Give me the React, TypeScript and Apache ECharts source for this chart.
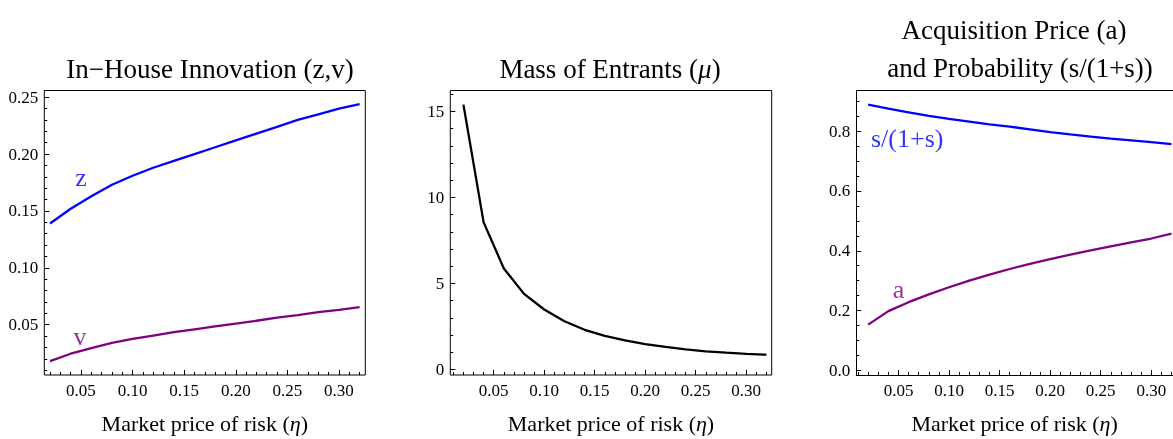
import React, { useEffect, useRef } from "react";
import * as echarts from "echarts";

// ---- data ----
const eta = [0.02, 0.04, 0.06, 0.08, 0.1, 0.12, 0.14, 0.16, 0.18, 0.2, 0.22, 0.24, 0.26, 0.28, 0.3, 0.32];
const zVals = [0.139, 0.152, 0.163, 0.173, 0.181, 0.188, 0.194, 0.2, 0.206, 0.212, 0.218, 0.224, 0.23, 0.235, 0.24, 0.244];
const vVals = [0.018, 0.0245, 0.0295, 0.034, 0.0375, 0.0405, 0.0435, 0.046, 0.0485, 0.051, 0.0535, 0.0562, 0.0585, 0.061, 0.063, 0.0655];
const muVals = [15.4, 8.55, 5.87, 4.39, 3.48, 2.8, 2.3, 1.95, 1.68, 1.47, 1.3, 1.16, 1.05, 0.97, 0.9, 0.85];
const sVals = [0.889, 0.875, 0.863, 0.851, 0.841, 0.832, 0.823, 0.815, 0.806, 0.797, 0.789, 0.782, 0.775, 0.769, 0.763, 0.757];
const aVals = [0.153, 0.198, 0.228, 0.254, 0.278, 0.3, 0.32, 0.339, 0.356, 0.372, 0.387, 0.401, 0.415, 0.428, 0.441, 0.457];

const xTicks = [0.05, 0.1, 0.15, 0.2, 0.25, 0.3];
const yTicks1 = [0.05, 0.1, 0.15, 0.2, 0.25];
const yTicks2 = [0, 5, 10, 15];
const yTicks3 = [0, 0.2, 0.4, 0.6, 0.8];

const titles = ["In\u2212House Innovation (z,v)", "Mass of Entrants ({i|\u03bc})", "Acquisition Price (a)", "and Probability (s/(1+s))"];
const xName = "Market price of risk ({i|\u03b7})";

// curve labels: [x, y]
const zLabelPos = [0.05, 0.179];
const vLabelPos = [0.049, 0.0396];
const sLabelPos = [0.0228, 0.776];
const aLabelPos = [0.05, 0.271];

const FONT = "'Liberation Serif', 'Times New Roman', serif";
const BLUE = "#0000ff";
const PURPLE = "#800080";

function minorList(lo: number, hi: number, step: number, majorStep: number) {
  const out: number[] = [];
  const n0 = Math.ceil(lo / step - 1e-9);
  const n1 = Math.floor(hi / step + 1e-9);
  const ratio = Math.round(majorStep / step);
  for (let k = n0; k <= n1; k++) {
    if (k % ratio === 0) continue;
    out.push(Math.round(k * step * 1e6) / 1e6);
  }
  return out;
}

// panel 3 runs off the right edge of the picture: its frame has no right side
const grids: any[] = [
  { left: 44.3, top: 90.5, width: 321, height: 288.5, xmin: 0.01444, xmax: 0.3255, ymin: 0.0058, ymax: 0.2559, yTicks: yTicks1, yStep: 0.01, yMajor: 0.05, yFmt: (v: number) => v.toFixed(2), box: true },
  { left: 450.3, top: 90.5, width: 321.4, height: 288.5, xmin: 0.007, xmax: 0.3252, ymin: -0.33, ymax: 16.22, yTicks: yTicks2, yStep: 1, yMajor: 5, yFmt: (v: number) => String(Math.round(v)), box: true },
  { left: 856.3, top: 90.5, width: 316.7, height: 288.5, xmin: 0.00826, xmax: 0.3215, ymin: -0.0155, ymax: 0.936, yTicks: yTicks3, yStep: 0.05, yMajor: 0.2, yFmt: (v: number) => v.toFixed(1), box: false },
];

export default function App() {
  const ref = useRef<HTMLDivElement>(null);
  useEffect(() => {
    if (!ref.current) return;
    const chart = echarts.init(ref.current, undefined, { renderer: "svg" });
    const labelStyle = { fontFamily: FONT, fontSize: 17, color: "#000" };
    const xAxis: any[] = [];
    const yAxis: any[] = [];
    const frameLine = { color: "#000", width: 1 };
    grids.forEach((g, i) => {
      xAxis.push({
        type: "value", gridIndex: i, min: g.xmin, max: g.xmax, position: "bottom",
        axisLine: { show: !g.box, onZero: false, lineStyle: frameLine }, splitLine: { show: false },
        axisTick: { show: true, inside: true, length: 5, customValues: xTicks, lineStyle: { color: "#000", width: 1 } },
        axisLabel: { ...labelStyle, margin: 7, customValues: xTicks, formatter: (v: number) => v.toFixed(2) },
        name: xName, nameLocation: "middle", nameGap: 37,
        nameTextStyle: { fontFamily: FONT, fontSize: 22, color: "#000", rich: { i: { fontFamily: FONT, fontSize: 22, fontStyle: "italic", color: "#000" } } },
      });
      xAxis.push({
        type: "value", gridIndex: i, min: g.xmin, max: g.xmax, position: "bottom",
        axisLine: { show: false, onZero: false }, splitLine: { show: false }, axisLabel: { show: false },
        axisTick: { show: true, inside: true, length: 3, customValues: minorList(g.xmin, g.xmax, 0.01, 0.05), lineStyle: { color: "#000", width: 1 } },
      });
      yAxis.push({
        type: "value", gridIndex: i, min: g.ymin, max: g.ymax, position: "left",
        axisLine: { show: !g.box, onZero: false, lineStyle: frameLine }, splitLine: { show: false },
        axisTick: { show: true, inside: true, length: 5, customValues: g.yTicks, lineStyle: { color: "#000", width: 1 } },
        axisLabel: { ...labelStyle, margin: 6, customValues: g.yTicks, formatter: g.yFmt },
      });
      yAxis.push({
        type: "value", gridIndex: i, min: g.ymin, max: g.ymax, position: "left",
        axisLine: { show: false, onZero: false }, splitLine: { show: false }, axisLabel: { show: false },
        axisTick: { show: true, inside: true, length: 3, customValues: minorList(g.ymin, g.ymax, g.yStep, g.yMajor), lineStyle: { color: "#000", width: 1 } },
      });
    });
    // top side of panel 3's frame
    xAxis.push({
      type: "value", gridIndex: 2, min: grids[2].xmin, max: grids[2].xmax, position: "top",
      axisLine: { show: true, onZero: false, lineStyle: frameLine }, splitLine: { show: false },
      axisTick: { show: false }, axisLabel: { show: false },
    });
    const line = (gi: number, ys: number[], color: string) => ({
      type: "line", xAxisIndex: gi * 2, yAxisIndex: gi * 2, showSymbol: false, symbol: "none",
      data: eta.map((x, k) => [x, ys[k]]), lineStyle: { color, width: 2.3 }, itemStyle: { color }, silent: true,
    });
    const tag = (gi: number, pos: number[], text: string, color: string, position: any) => ({
      type: "scatter", xAxisIndex: gi * 2, yAxisIndex: gi * 2, symbolSize: 0, silent: true,
      data: [pos],
      label: { show: true, formatter: text, position, distance: 0, color, fontFamily: FONT, fontSize: 26 },
    });
    const titleText = (text: string, x: number, y: number) => ({
      type: "text", x, y, silent: true,
      style: {
        text, fill: "#000", font: `27px ${FONT}`, fontFamily: FONT, fontSize: 27, textAlign: "center", textVerticalAlign: "middle", align: "center", verticalAlign: "middle",
        rich: { i: { fontFamily: FONT, fontSize: 27, fontStyle: "italic", fill: "#000" } },
      },
    });
    chart.setOption({
      animation: false,
      grid: grids.map((g) => ({
        left: g.left, top: g.top, width: g.width, height: g.height, show: g.box,
        borderColor: "#000", borderWidth: 1, backgroundColor: "transparent", containLabel: false,
      })),
      xAxis, yAxis,
      series: [
        line(0, zVals, BLUE),
        line(0, vVals, PURPLE),
        line(1, muVals, "#000"),
        line(2, sVals, BLUE),
        line(2, aVals, PURPLE),
        tag(0, zLabelPos, "z", BLUE, "inside"),
        tag(0, vLabelPos, "v", PURPLE, "inside"),
        tag(2, sLabelPos, "s/(1+s)", BLUE, "right"),
        tag(2, aLabelPos, "a", PURPLE, "inside"),
      ],
      graphic: [
        titleText(titles[0], 210, 69),
        titleText(titles[1], 610, 69),
        titleText(titles[2], 1014, 30),
        titleText(titles[3], 1020, 68),
      ],
    });
    return () => chart.dispose();
  }, []);
  return <div ref={ref} style={{ position: "fixed", left: 0, top: 0, width: 1173, height: 439 }} />;
}
